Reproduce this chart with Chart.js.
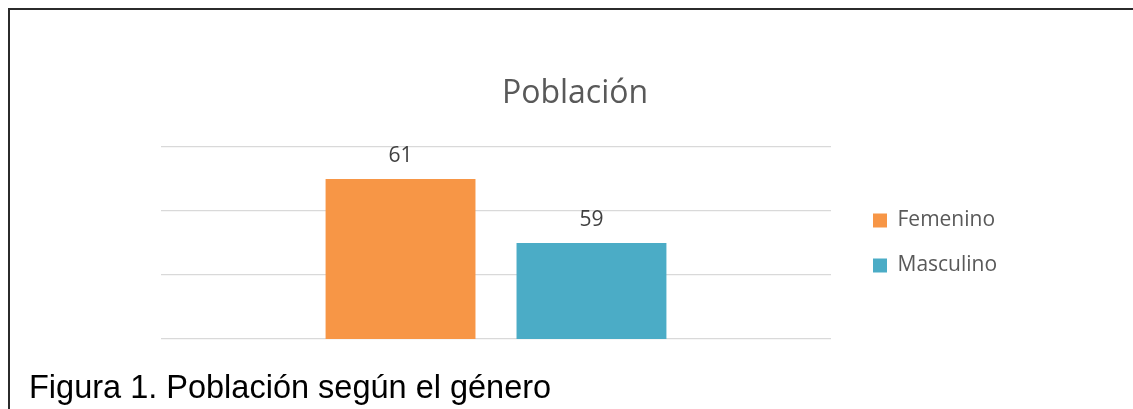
<!DOCTYPE html>
<html>
<head>
<meta charset="utf-8">
<script src="https://cdn.jsdelivr.net/npm/chart.js@4"></script>
<style>
  html, body { margin: 0; padding: 0; background: #fff; overflow: hidden; }
  body { width: 1133px; height: 409px; position: relative; }
  #frame {
    position: absolute; left: 8px; top: 8px; width: 1200px; height: 500px;
    border-left: 2px solid #2b2b2b; border-top: 2px solid #2b2b2b;
  }
  #wrap { position: absolute; left: 0; top: 0; width: 1133px; height: 409px; }
  #caption {
    position: absolute; left: 29px; top: 371px;
    font-family: "Liberation Sans", Arial, sans-serif; font-size: 32.5px; line-height: 32px;
    color: #000; white-space: nowrap;
  }
</style>
</head>
<body>
<div id="frame"></div>
<div id="wrap"><canvas id="myChart"></canvas></div>
<div id="caption">Figura 1. Población según el género</div>
<script>
// data
const categorias = ['Total'];
const series = ['Femenino', 'Masculino'];
const femenino = [61];
const masculino = [59];
const colores = ['#F79646', '#4BACC6'];
const tituloGrafico = 'Población';

// value labels above each bar
const barLabels = {
    id: 'barLabels',
    afterDatasetsDraw(chart) {
        const ctx = chart.ctx;
        ctx.save();
        ctx.font = '21px "Open Sans"';
        ctx.fillStyle = '#404040';
        ctx.textAlign = 'center';
        ctx.textBaseline = 'alphabetic';
        chart.data.datasets.forEach((ds, i) => {
            chart.getDatasetMeta(i).data.forEach((bar, j) => {
                ctx.fillText(ds.data[j], bar.x, bar.y - 17);
            });
        });
        ctx.restore();
    }
};

// legend box is kept narrow so the title centres like in Excel,
// so let the legend text run past it instead of being clipped
const legendNoClip = {
    id: 'legendNoClip',
    afterLayout(chart) {
        if (chart.legend) {
            chart.legend.right = chart.width;
            chart.legend.width = chart.width - chart.legend.left;
        }
    }
};

const ctx = document.getElementById('myChart').getContext('2d');
const chart = new Chart(ctx, {
    type: 'bar',
    data: {
        labels: categorias,
        datasets: [
            { label: series[0], data: femenino, backgroundColor: colores[0] },
            { label: series[1], data: masculino, backgroundColor: colores[1] }
        ]
    },
    options: {
        responsive: true,
        maintainAspectRatio: false,
        animation: false,
        categoryPercentage: 0.57,
        barPercentage: 0.785,
        layout: { padding: { left: 161, right: 144, top: 0, bottom: 70 } },
        plugins: {
            title: {
                display: true,
                text: tituloGrafico,
                color: '#595959',
                font: { family: 'Open Sans', size: 32, weight: 'normal' },
                padding: { top: 75, bottom: 33.6 }
            },
            legend: {
                display: true,
                position: 'right',
                fullSize: false,
                maxWidth: 140,
                labels: {
                    boxWidth: 14,
                    boxHeight: 14,
                    padding: 24,
                    color: '#595959',
                    font: { family: 'Open Sans', size: 21 }
                }
            },
            tooltip: { enabled: false }
        },
        scales: {
            x: { display: false },
            y: {
                position: 'right',
                min: 56,
                max: 62,
                ticks: { stepSize: 2, display: false },
                border: { display: false },
                grid: { color: '#D9D9D9', lineWidth: 1.3, tickLength: 18, tickColor: 'transparent' }
            }
        }
    },
    plugins: [barLabels, legendNoClip]
});
</script>
</body>
</html>
